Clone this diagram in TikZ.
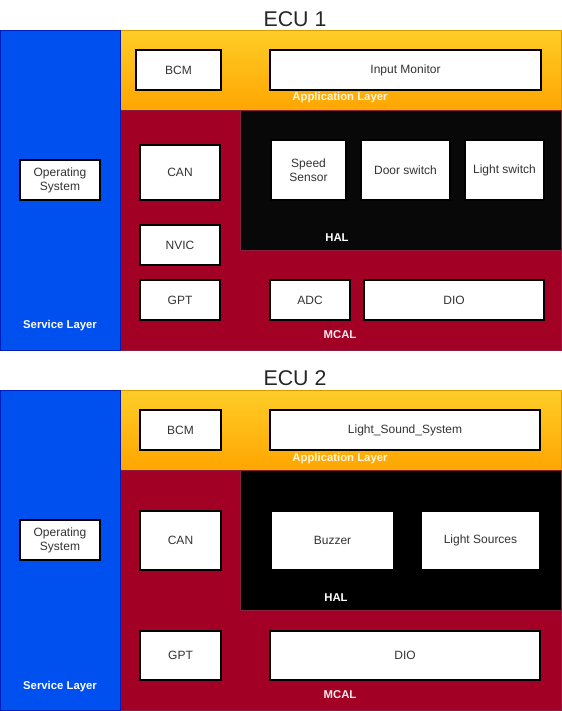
\documentclass[tikz,border=0pt]{standalone}
\usepackage{fontspec}
\setmainfont{Liberation Sans}
\usetikzlibrary{positioning}

\definecolor{svcblue}{HTML}{0050EF}
\definecolor{svcline}{HTML}{001DBC}
\definecolor{apptop}{HTML}{FFCD28}
\definecolor{appbot}{HTML}{FFA500}
\definecolor{appline}{HTML}{D79B00}
\definecolor{mcalred}{HTML}{A20025}
\definecolor{mcalline}{HTML}{8A2040}
\definecolor{halblack}{HTML}{080808}
\definecolor{applabel}{HTML}{FFF6DA}

\tikzset{
  blk/.style={draw=black, fill=white, thick, inner sep=1pt, align=center,
    text=black!80, font=\fontsize{9}{10.5}\selectfont},
  sz/.style 2 args={minimum width=#1*0.75pt, minimum height=#2*0.75pt},
  layerlbl/.style={text=white, font=\fontsize{8.5}{10}\selectfont\bfseries},
  ecutitle/.style={font=\fontsize{16}{18}\selectfont, text=black!85}
}

\begin{document}
\begin{tikzpicture}[x=0.75pt, y=-0.75pt]
  \useasboundingbox (0,0) rectangle (561,711);

  % ECU 1
  \begin{scope}[shift={(0,0)}]
    \node[ecutitle] (titleA) at (295,19) {ECU 1};
    \shade[top color=apptop, bottom color=appbot, draw=appline] (120,30) rectangle (561,110);
    \fill[mcalred, draw=mcalline] (120,110) rectangle (561,350);
    \fill[halblack, draw=mcalline] (240,110) rectangle (561,250);
    \fill[svcblue, draw=svcline] (0,30) rectangle (120,350);

    \node[blk, sz={85}{40}] (bcmA) at (178.5,70) {BCM};
    \node[blk, sz={271}{40}] (inmon) at (405.5,70) {Input Monitor};
    \node[layerlbl, text=applabel] (appA) at (340,98) {Application Layer};

    \node[blk, sz={80}{40}] (osA) at (60,180) {Operating\\System};
    \node[layerlbl] (svcA) at (60,326) {Service Layer};

    \node[blk, sz={80}{55}] (canA) at (180,172.5) {CAN};
    \node[blk, sz={80}{40}] (nvic) at (180,245) {NVIC};
    \node[blk, sz={80}{40}] (gptA) at (180,300) {GPT};

    \node[blk, sz={75}{60}] (speed) at (308.5,170) {Speed\\Sensor};
    \node[blk, sz={89}{60}] (door) at (405.5,170) {Door switch};
    \node[blk, sz={79}{60}] (lsw) at (504.5,170) {Light switch};
    \node[layerlbl] (halA) at (337,238) {HAL};

    \node[blk, sz={80}{40}] (adc) at (310,300) {ADC};
    \node[blk, sz={180}{40}] (dioA) at (454,300) {DIO};
    \node[layerlbl, text=white!92!red] (mcalA) at (340,335) {MCAL};
  \end{scope}

  % ECU 2
  \begin{scope}[shift={(0,360)}]
    \node[ecutitle] (titleB) at (295,18) {ECU 2};
    \shade[top color=apptop, bottom color=appbot, draw=appline] (120,30) rectangle (561,110);
    \fill[mcalred, draw=mcalline] (120,110) rectangle (561,350);
    \fill[black, draw=mcalline] (240,110) rectangle (561,250);
    \fill[svcblue, draw=svcline] (0,30) rectangle (120,350);

    \node[blk, sz={81}{40}] (bcmB) at (180.5,70) {BCM};
    \node[blk, sz={270}{40}] (lss) at (405,70) {Light\_Sound\_System};
    \node[layerlbl, text=applabel] (appB) at (340,99) {Application Layer};

    \node[blk, sz={80}{40}] (osB) at (60,180) {Operating\\System};
    \node[layerlbl] (svcB) at (60,327) {Service Layer};

    \node[blk, sz={81}{59}] (canB) at (180.5,180.5) {CAN};
    \node[blk, sz={123}{59}] (buzz) at (332.5,180.5) {Buzzer};
    \node[blk, sz={119}{59}] (lsrc) at (480.5,180.5) {Light Sources};
    \node[layerlbl] (halB) at (336,238) {HAL};

    \node[blk, sz={81}{49}] (gptB) at (180.5,295.5) {GPT};
    \node[blk, sz={270}{49}] (dioB) at (405,295.5) {DIO};
    \node[layerlbl, text=white!92!red] (mcalB) at (340,335) {MCAL};
  \end{scope}
\end{tikzpicture}
\end{document}
